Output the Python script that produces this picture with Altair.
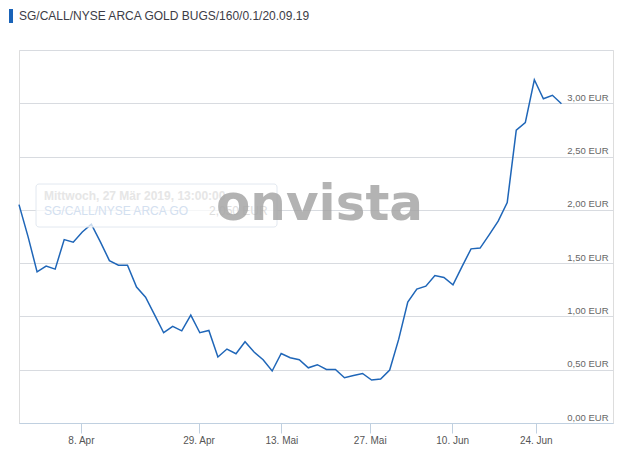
import altair as alt
import pandas as pd

# --- data ---
title_text = "SG/CALL/NYSE ARCA GOLD BUGS/160/0.1/20.09.19"
prices = [
    2.049, 1.749, 1.418, 1.472, 1.444, 1.721, 1.697, 1.793, 1.866, 1.700,
    1.524, 1.481, 1.481, 1.275, 1.181, 1.015, 0.847, 0.906, 0.865, 1.012,
    0.847, 0.868, 0.619, 0.694, 0.650, 0.762, 0.666, 0.593, 0.488, 0.652,
    0.612, 0.593, 0.518, 0.547, 0.502, 0.502, 0.425, 0.446, 0.465, 0.403,
    0.412, 0.497, 0.787, 1.134, 1.256, 1.284, 1.384, 1.365, 1.297, 1.468,
    1.634, 1.641, 1.765, 1.894, 2.068, 2.747, 2.818, 3.221, 3.043, 3.075,
    2.996,
]
tick_positions = [6.85, 19.86, 29.02, 38.79, 47.91, 57.16]
tick_labels = ["8. Apr", "29. Apr", "13. Mai", "27. Mai", "10. Jun", "24. Jun"]
y_ticks = [0, 0.5, 1.0, 1.5, 2.0, 2.5, 3.0, 3.5]
tooltip_date = "Mittwoch, 27 Mär 2019, 13:00:00"
tooltip_name = "SG/CALL/NYSE ARCA GO"
tooltip_value = "2,050 EUR"
watermark = "onvista"

df = pd.DataFrame({"i": list(range(len(prices))), "v": prices})

# label expression for x ticks (ternary chain on midpoints)
expr = "'" + tick_labels[-1] + "'"
for k in range(len(tick_positions) - 2, -1, -1):
    mid = (tick_positions[k] + tick_positions[k + 1]) / 2
    expr = f"datum.value < {mid} ? '{tick_labels[k]}' : ({expr})"

FONT = "Liberation Sans"
W, H = 594, 373

x_enc = alt.X(
    "i:Q",
    scale=alt.Scale(domain=[0, 65.7], nice=False, zero=False),
    axis=alt.Axis(
        values=tick_positions, labelExpr=expr, grid=False,
        domainColor="#c0d0e0", tickColor="#c0d0e0", tickSize=10,
        labelFontSize=10, labelColor="#555555", labelPadding=2,
        labelFont=FONT, title=None, labelFlush=False,
    ),
)
y_enc = alt.Y(
    "v:Q",
    scale=alt.Scale(domain=[0, 3.5], nice=False),
    axis=alt.Axis(
        orient="right", values=y_ticks,
        labelExpr="datum.value >= 3.5 ? '' : replace(format(datum.value, '.2f'), '.', ',') + ' EUR'",
        grid=True, gridColor="#d8dbe0", domain=False, ticks=False, tickSize=0,
        labelAlign="right", labelPadding=-5, labelBaseline="alphabetic",
        labelOffset=-3, labelFontSize=9.5, labelColor="#666666", labelFont=FONT,
        title=None, labelOverlap=False,
    ),
)

base = alt.Chart(df)
line = base.mark_line(color="#1f66b8", strokeWidth=1.5).encode(x=x_enc, y=y_enc)

one = pd.DataFrame({"t": [0]})
annot = alt.Chart(one)

box = annot.mark_rect(
    fill="white", fillOpacity=0.75, stroke="#e2e8f0", strokeWidth=1, cornerRadius=3
).encode(x=alt.value(17), x2=alt.value(258), y=alt.value(134), y2=alt.value(177))

tt1 = annot.mark_text(
    text=tooltip_date, align="left", baseline="alphabetic", font=FONT,
    fontSize=12, fontWeight="bold", color="#e6e6e6",
).encode(x=alt.value(25), y=alt.value(150))
tt2 = annot.mark_text(
    text=tooltip_name, align="left", baseline="alphabetic", font=FONT,
    fontSize=12, color="#d3e0f0",
).encode(x=alt.value(25), y=alt.value(165))
tt3 = annot.mark_text(
    text=tooltip_value, align="left", baseline="alphabetic", font=FONT,
    fontSize=12, color="#dddddd",
).encode(x=alt.value(190), y=alt.value(165))
logo = annot.mark_text(
    text=watermark, align="left", baseline="alphabetic", font="DejaVu Sans",
    fontSize=50, fontWeight="bold", color="#a6a6a6", opacity=0.85,
).encode(x=alt.value(197), y=alt.value(170))

bar = annot.mark_rect(color="#1a63b8").encode(
    x=alt.value(-10), x2=alt.value(-6), y=alt.value(-41), y2=alt.value(-27)
)
title = annot.mark_text(
    text=title_text, align="left", baseline="alphabetic", font=FONT,
    fontSize=12, color="#3c3c46",
).encode(x=alt.value(0), y=alt.value(-30))

chart = (
    alt.layer(line, box, tt1, tt2, tt3, logo, bar, title)
    .properties(
        width=W, height=H, autosize="none",
        padding={"left": 11, "top": 42, "right": 2, "bottom": 28},
    )
    .configure_view(stroke=None)
    .configure(background="white")
)

chart.save("out.html", embed_options={"renderer": "svg", "actions": False})
